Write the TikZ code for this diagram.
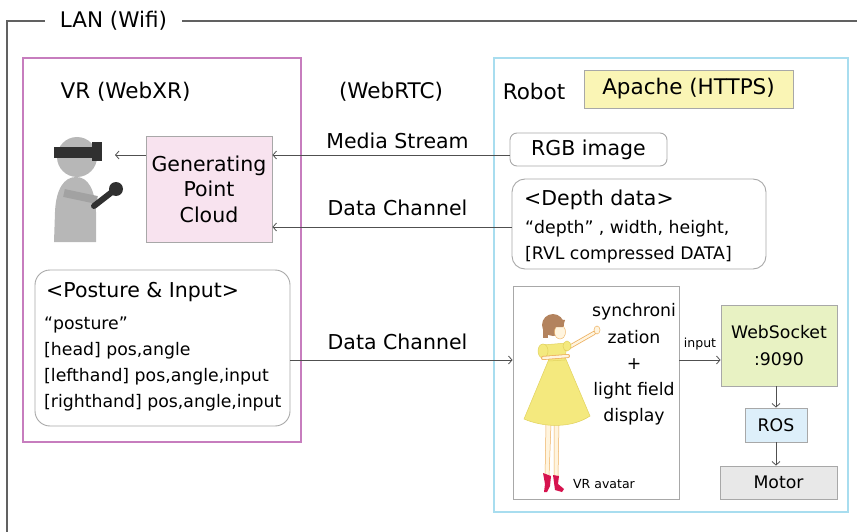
\documentclass[tikz,border=0pt]{standalone}
\usepackage{fontspec}
\setmainfont{DejaVu Sans}
\usetikzlibrary{arrows.meta}
\definecolor{lineink}{HTML}{505050}
\definecolor{boxbd}{HTML}{A8A8A8}
\definecolor{vrpink}{HTML}{C77DBE}
\definecolor{robotblue}{HTML}{A8DDEF}
\definecolor{cloudfill}{HTML}{F8E3EF}
\definecolor{apachefill}{HTML}{FAF5B5}
\definecolor{wsfill}{HTML}{E8F2C3}
\definecolor{rosfill}{HTML}{DDEFFA}
\definecolor{motorfill}{HTML}{E8E8E8}
\definecolor{usergray}{HTML}{B7B7B7}
\definecolor{armgray}{HTML}{A2A2A2}
\definecolor{visor}{HTML}{303030}
\definecolor{hair}{HTML}{B3835E}
\definecolor{skin}{HTML}{FFF4DE}
\definecolor{skinline}{HTML}{EDB060}
\definecolor{dress}{HTML}{F4E97E}
\definecolor{dressline}{HTML}{E2D25E}
\definecolor{shoe}{HTML}{D6134E}
\newcommand{\headtxt}{\fontsize{21.5}{26}\selectfont}
\newcommand{\bigtxt}{\fontsize{20.5}{25.5}\selectfont}
\newcommand{\midtxt}{\fontsize{17.3}{26.2}\selectfont}
\newcommand{\tinytxt}{\fontsize{12.5}{15}\selectfont}
\tikzset{
  vrpane/.style={draw=vrpink, line width=1.6pt},
  robotpane/.style={draw=robotblue, line width=1.6pt},
  sbox/.style={draw=boxbd, line width=0.9pt, align=center, inner sep=0pt, font=\midtxt},
  txt/.style={inner sep=0pt, font=\bigtxt},
  flow/.style={-{Straight Barb[length=3.5pt, width=8pt]}, draw=lineink, line width=0.8pt},
  lanline/.style={draw=lineink!90, line width=1.1pt}
}

\begin{document}
\begin{tikzpicture}[x=1pt, y=-1pt]
\useasboundingbox (0,0) rectangle (857,532);

% LAN frame
\node[txt, font=\headtxt, inner xsep=15pt] (lan) at (113.5,21) {LAN (Wifi)};
\coordinate (lanend) at (857,21);
\draw[lanline] (lan.west) -| (7,532);
\draw[lanline] (lan.east) -- (lanend);

% panes
\node[vrpane, minimum width=278pt, minimum height=384pt] (vr) at (162,250) {};
\node[robotpane, minimum width=354pt, minimum height=454pt] (robot) at (671,285) {};
\node[txt, font=\headtxt] (vrtitle) at (125.5,92) {VR (WebXR)};
\node[txt, font=\headtxt] (rtc) at (391,92) {(WebRTC)};
\node[txt, font=\headtxt] (robottitle) at (534,91) {Robot};
\node[sbox, fill=apachefill, font=\headtxt, minimum width=209pt, minimum height=38pt] (apache) at (688.5,89) {Apache (HTTPS)};

% VR side
\node[sbox, fill=cloudfill, font=\bigtxt, minimum width=126pt, minimum height=106pt] (cloud) at (209,189) {Generating\\Point\\Cloud};
\node[sbox, rounded corners=15pt, minimum width=255pt, minimum height=156pt] (posture) at (162.5,348) {};
\node[txt, anchor=west] (posturetitle) at (46,292) {<Posture \& Input>};
\node[txt, font=\midtxt, align=left, anchor=west] (posturetxt) at (44,364) {“posture”\\{[head]} pos,angle\\{[lefthand]} pos,angle,input\\{[righthand]} pos,angle,input};

% headset user
\fill[usergray] (77,157) circle[radius=20pt];
\fill[usergray] (54,242) -- (55,212) .. controls (56,189) and (64,177) .. (76,177)
  .. controls (88,177) and (95,189) .. (96,212) -- (96,242) -- cycle;
\draw[armgray, line width=8pt] (64,193) -- (97,200);
\fill[visor] (54,147) rectangle (100,158);
\fill[visor] (92,142) rectangle (102,161);
\draw[visor, line width=6pt, line cap=round] (94,206) -- (112,192);
\fill[visor] (116,189) circle[radius=7pt];
\coordinate (eye) at (115,155);

% Robot side
\node[sbox, rounded corners=7pt, font=\bigtxt, minimum width=157pt, minimum height=33pt] (rgb) at (588.5,149.5) {RGB image};
\node[sbox, rounded corners=13pt, minimum width=254pt, minimum height=90pt] (depth) at (639,224) {};
\node[txt, anchor=west] (depthtitle) at (524,200) {<Depth data>};
\node[txt, font=\midtxt, align=left, anchor=west] (depthtxt) at (525,242) {“depth” , width, height,\\{[RVL compressed DATA]}};
\node[sbox, fill=white, minimum width=166pt, minimum height=213pt] (avatar) at (596,392.5) {};
\node[txt, font=\midtxt, align=center] (avatartxt) at (634,364.5) {synchroni\\zation\\+\\light field\\display};
\node[txt, font=\tinytxt] (avatarname) at (604,484) {VR avatar};
\node[sbox, fill=wsfill, minimum width=116pt, minimum height=81pt] (ws) at (779,345.5) {WebSocket\\:9090};
\node[sbox, fill=rosfill, minimum width=62pt, minimum height=34pt] (ros) at (776,425) {ROS};
\node[sbox, fill=motorfill, minimum width=117pt, minimum height=33pt] (motor) at (778.5,482.5) {Motor};

% avatar figure
\filldraw[fill=skin, draw=skinline, line width=0.5pt] (546,424) -- (545,477) -- (549,477) -- (551,424) -- cycle;
\filldraw[fill=skin, draw=skinline, line width=0.5pt] (554,424) -- (554,478) -- (558,478) -- (559,424) -- cycle;
\fill[shoe] (543,473) -- (551,476) -- (550,486) -- (547,492) -- (544,492) -- (545,484) -- cycle;
\fill[shoe] (553,475) -- (559,476) -- (558,484) -- (564,489) -- (562,492) -- (555,490) -- cycle;
\filldraw[fill=dress, draw=dressline, line width=0.5pt] (549,359) -- (524,419)
  .. controls (545,428) and (572,428) .. (590,416) -- (565,357) -- cycle;
\filldraw[fill=dress, draw=dressline, line width=0.5pt] (542,345) -- (567,343) -- (565,360) -- (549,361) -- cycle;
\filldraw[fill=dress, draw=dressline, line width=0.5pt] (543,351) ellipse[x radius=5pt, y radius=7pt];
\draw[skinline, line width=4pt, line cap=round] (566,349) -- (594,333);
\draw[skin, line width=2.4pt, line cap=round] (566,349) -- (594,333);
\draw[skinline, line width=4pt, line cap=round] (543,358) -- (568,356);
\draw[skin, line width=2.4pt, line cap=round] (543,358) -- (568,356);
\filldraw[fill=skin, draw=skinline, line width=0.5pt] (597,330) ellipse[x radius=3pt, y radius=4pt];
\filldraw[fill=dress, draw=dressline, line width=0.5pt] (567,346) ellipse[x radius=4pt, y radius=5pt];
\fill[hair] (553,325) circle[radius=11pt];
\fill[hair] (543,326) rectangle (548,338);
\filldraw[fill=skin, draw=skinline, line width=0.4pt] (560,332) ellipse[x radius=5.5pt, y radius=7pt];
\fill[hair] (549,318) -- (565,320) -- (563,327) -- (552,327) -- cycle;

% connectors
\coordinate (ms) at (0,155);
\coordinate (dcup) at (0,227);
\coordinate (dclow) at (0,360);
\draw[flow] (rgb.west |- ms) -- (cloud.east |- ms);
\draw[flow] (cloud.west |- ms) -- (eye);
\draw[flow] (depth.west |- dcup) -- (cloud.east |- dcup);
\draw[flow] (posture.east |- dclow) -- (avatar.west |- dclow);
\draw[flow] (avatar.east |- dclow) -- (ws.west |- dclow);
\draw[flow] (ros.north |- ws.south) -- (ros.north);
\draw[flow] (ros.south) -- (ros.south |- motor.north);
\node[txt] (mslabel) at (397.5,141) {Media Stream};
\node[txt] (dcuplabel) at (397.5,208) {Data Channel};
\node[txt] (dclowlabel) at (397.5,341.5) {Data Channel};
\node[txt, font=\tinytxt] (inputlabel) at (700,344) {input};
\end{tikzpicture}
\end{document}
